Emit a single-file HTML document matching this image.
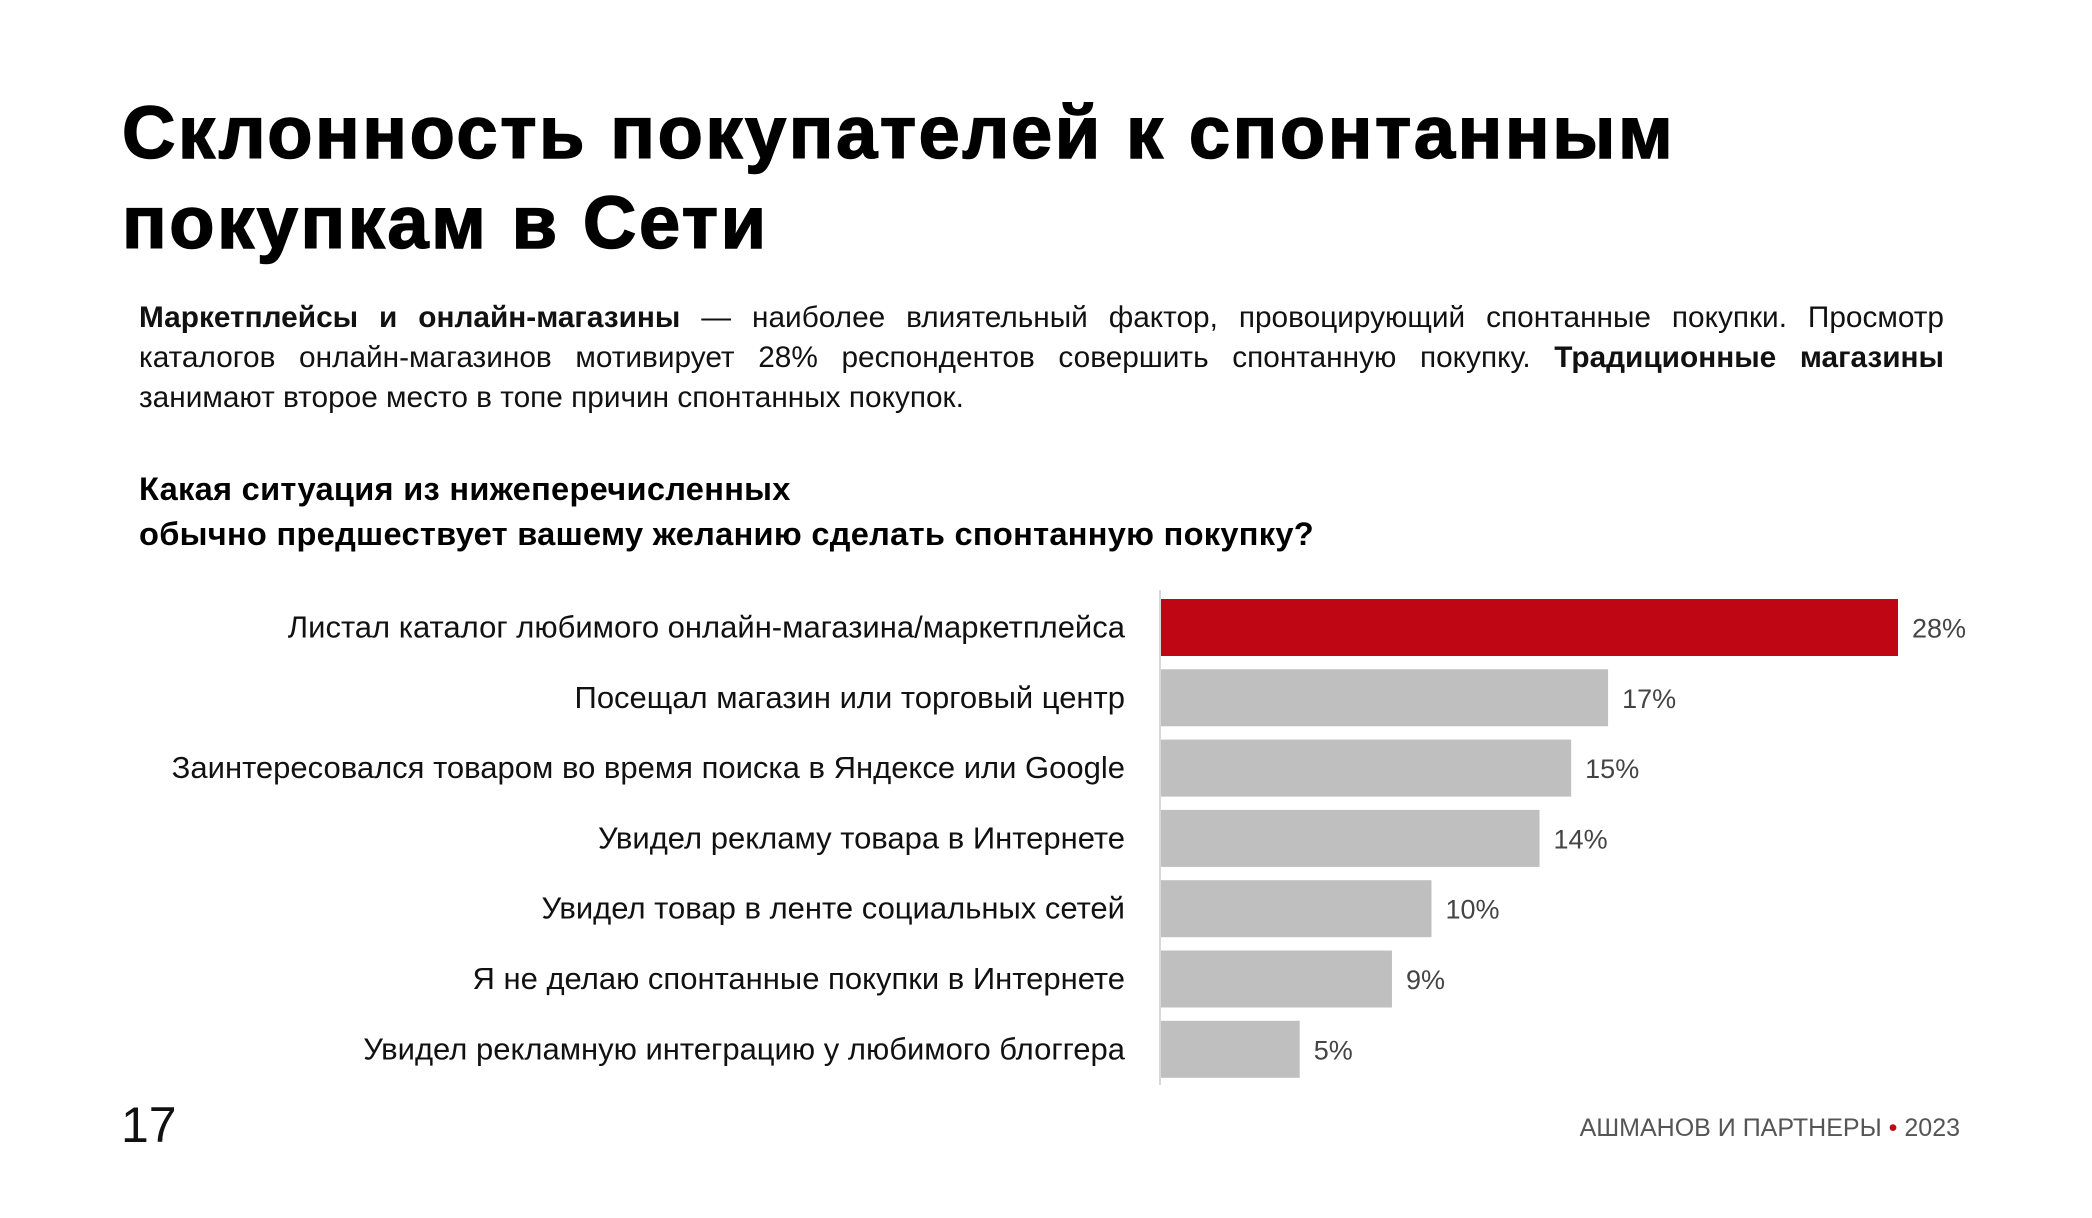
<!DOCTYPE html>
<html><head><meta charset="utf-8">
<style>
body{margin:0;width:2092px;height:1218px;background:#fff;position:relative;overflow:hidden;font-family:"Liberation Sans","Noto Sans CJK SC",sans-serif;color:#111}
.title{position:absolute;left:122px;top:88px;font-size:74px;font-weight:900;letter-spacing:2.6px;line-height:90px;color:#000;-webkit-text-stroke:1.5px #000;margin:0}
.para{position:absolute;left:139px;top:298px;width:1805px;font-size:29.8px;line-height:40px;text-align:justify;text-align-last:left;color:#111}
.q{position:absolute;left:139px;top:466px;font-size:32.6px;line-height:45px;font-weight:bold;color:#000;letter-spacing:0.3px}
.pn{position:absolute;left:121px;top:1096px;font-size:50px;font-weight:300;color:#111}
.foot{position:absolute;right:132px;top:1114px;font-size:25px;color:#555}
.foot span{color:#c00817}
</style></head><body>
<h1 class="title">Склонность покупателей к спонтанным<br>покупкам в Сети</h1>
<div class="para"><b>Маркетплейсы и онлайн-магазины</b> — наиболее влиятельный фактор, провоцирующий спонтанные покупки. Просмотр каталогов онлайн-магазинов мотивирует 28% респондентов совершить спонтанную покупку. <b>Традиционные магазины</b> занимают второе место в топе причин спонтанных покупок.</div>
<div class="q">Какая ситуация из нижеперечисленных<br>обычно предшествует вашему желанию сделать спонтанную покупку?</div>
<svg id="chart" width="2092" height="1218" style="position:absolute;left:0;top:0"></svg>
<div class="pn">17</div>
<div class="foot">АШМАНОВ И ПАРТНЕРЫ <span>•</span> 2023</div>
<script>
const categories=["Листал каталог любимого онлайн-магазина/маркетплейса","Посещал магазин или торговый центр","Заинтересовался товаром во время поиска в Яндексе или Google","Увидел рекламу товара в Интернете","Увидел товар в ленте социальных сетей","Я не делаю спонтанные покупки в Интернете","Увидел рекламную интеграцию у любимого блоггера"];
const values=[28,17,15.6,14.4,10.3,8.8,5.3];
const valueLabels=["28%","17%","15%","14%","10%","9%","5%"];
const NS="http://www.w3.org/2000/svg";
const svg=document.getElementById('chart');
const x0=1160, pxPer=(1898-1160)/28, top0=599, step=70.3, bh=57;
const xs=v=>x0+v*pxPer;
const ys=i=>top0+i*step;
const axis=document.createElementNS(NS,'line');


axis.setAttribute('x1',x0);axis.setAttribute('x2',x0);axis.setAttribute('y1',590);axis.setAttribute('y2',1085);
axis.setAttribute('stroke','#ccc');axis.setAttribute('stroke-width','1.5');
svg.appendChild(axis);
categories.forEach((c,i)=>{
  const r=document.createElementNS(NS,'rect');
  
  
  r.setAttribute('x',x0+1);r.setAttribute('y',ys(i));
  r.setAttribute('width',xs(values[i])-x0-1);r.setAttribute('height',bh);
  r.setAttribute('fill',i===0?'#bf0614':'#bfbfbf');
  svg.appendChild(r);
  const t=document.createElementNS(NS,'text');
  
  
  t.setAttribute('x',1125);t.setAttribute('y',ys(i)+bh/2+10);
  t.setAttribute('text-anchor','end');t.setAttribute('font-size','31');t.setAttribute('fill','#111');
  t.setAttribute('font-family','"Liberation Sans",sans-serif');
  t.textContent=c;svg.appendChild(t);
  const v=document.createElementNS(NS,'text');
  
  
  v.setAttribute('x',xs(values[i])+14);v.setAttribute('y',ys(i)+bh/2+10);
  v.setAttribute('font-size','27');v.setAttribute('fill','#444');
  v.setAttribute('font-family','"Liberation Sans",sans-serif');
  v.textContent=valueLabels[i];svg.appendChild(v);
});
</script>
</body></html>
